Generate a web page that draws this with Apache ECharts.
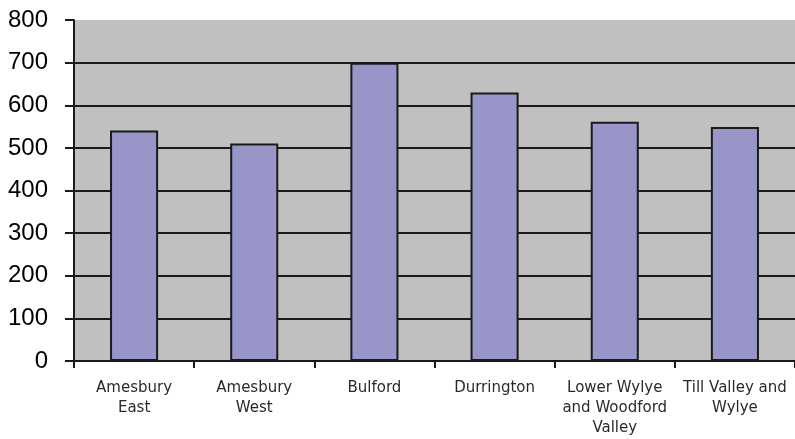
<!DOCTYPE html>
<html>
<head>
<meta charset="utf-8">
<script src="https://cdn.jsdelivr.net/npm/echarts@6/dist/echarts.min.js"></script>
<style>
    html, body { margin: 0; padding: 0; background: #fff; }
    #chart { width: 795px; height: 439px; }
</style>
</head>
<body>
<div id="chart"></div>
<script>
// wards (line breaks as in the original labels)
const wards = [
    "Amesbury\nEast",
    "Amesbury\nWest",
    "Bulford",
    "Durrington",
    "Lower Wylye\nand Woodford\nValley",
    "Till Valley and\nWylye"
];
const counts = [541, 510, 700, 630, 561, 549];
const yTicks = [0, 100, 200, 300, 400, 500, 600, 700, 800];

const chart = echarts.init(document.getElementById("chart"));

// no grid line at the very top (800)
const splitColors = yTicks.map((t, i) => (i === yTicks.length - 1 ? "transparent" : "#1a1a1a"));

chart.setOption({
    animation: false,
    grid: {
        left: 74,
        right: 0,
        top: 20,
        bottom: 78,
        show: true,
        backgroundColor: "#c0c0c0",
        borderWidth: 0
    },
    xAxis: {
        type: "category",
        data: wards,
        axisLine: { lineStyle: { color: "#1a1a1a", width: 2 } },
        axisTick: {
            show: true,
            alignWithLabel: false,
            length: 7,
            lineStyle: { color: "#1a1a1a", width: 2 }
        },
        axisLabel: {
            interval: 0,
            margin: 17,
            color: "#2a2a2a",
            fontFamily: "DejaVu Sans",
            fontSize: 15,
            lineHeight: 20
        }
    },
    yAxis: {
        type: "value",
        min: yTicks[0],
        max: yTicks[yTicks.length - 1],
        interval: 100,
        axisLine: { show: true, lineStyle: { color: "#1a1a1a", width: 2 } },
        axisTick: { show: true, length: 9, lineStyle: { color: "#1a1a1a", width: 2 } },
        splitLine: { show: true, lineStyle: { color: splitColors, width: 2 } },
        axisLabel: {
            margin: 26,
            color: "#000",
            fontFamily: "Liberation Sans",
            fontSize: 24
        }
    },
    series: [
        {
            type: "bar",
            data: counts,
            barWidth: "40%",
            itemStyle: {
                color: "#9896c9",
                borderColor: "#1a1a1a",
                borderWidth: 2
            }
        }
    ]
});
</script>
</body>
</html>
